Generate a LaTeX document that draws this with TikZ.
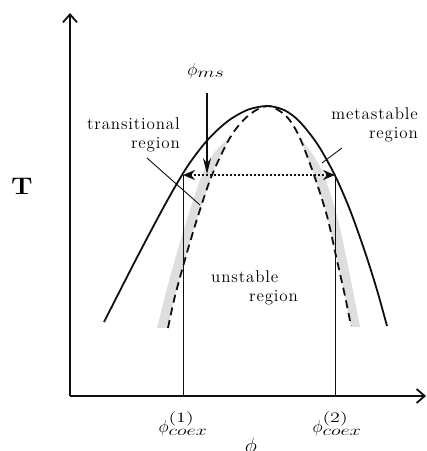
\documentclass[tikz,border=0pt]{standalone}
\usepackage{fontspec}
\usepackage{amsmath}
\usepackage{tikz}
\usetikzlibrary{arrows.meta, positioning, calc}
\definecolor{mydark}{RGB}{15,15,15}
\definecolor{mygrey}{RGB}{222,222,222}
\newfontfamily\spacedfont{lmroman12-regular}[Extension=.otf, LetterSpace=5]
\DeclareMathSizes{18}{18}{13.5}{10}
\tikzset{
  axis/.style={line width=1.8pt, color=mydark, -{Straight Barb[length=8pt, width=14pt]}},
  binodal/.style={line width=1.8pt, color=mydark},
  spinodal/.style={line width=1.8pt, color=mydark, dash pattern=on 8pt off 5pt},
  band/.style={fill=mygrey, draw=none},
  tieline/.style={line width=1.6pt, color=mydark, dash pattern=on 2pt off 2pt, {Stealth[length=12pt, width=10pt]}-{Stealth[length=12pt, width=10pt]}},
  guide/.style={line width=0.8pt, color=mydark},
  pointer/.style={line width=0.9pt, color=mydark},
  msarrow/.style={line width=1.5pt, color=mydark, -{Stealth[length=16pt, width=8pt]}},
  regionlabel/.style={font=\spacedfont\fontsize{17}{19}\selectfont, inner sep=0pt},
  mathlabel/.style={font=\fontsize{18}{21}\selectfont, inner sep=0pt}
}
\newcommand{\sw}[1]{\scalebox{1.4}[1]{$\scriptstyle #1$}}

\begin{document}
\begin{tikzpicture}[x=1pt, y=1pt]
  \useasboundingbox (0,0) rectangle (427,451);

  % Axes
  \coordinate (O) at (70,55);
  \coordinate (ytop) at (70,438);
  \coordinate (xend) at (426,55);
  \draw[axis] (O) -- (ytop);
  \draw[axis] (O) -- (xend);

  % Shaded transitional bands
  \fill[band] plot[smooth] coordinates {(228,312) (214,298) (202,276) (188,235) (176,195) (165,155) (157,123)}
    -- plot[smooth] coordinates {(168,123) (175,155) (186,195) (198,235) (212,276) (228,310)} -- cycle;
  \fill[band] plot[smooth] coordinates {(300,313) (313,296) (324,276) (337,235) (346,195) (354,155) (360,124)}
    -- plot[smooth] coordinates {(351,124) (345,155) (336,195) (327,235) (314,276) (301,310)} -- cycle;

  % Coexistence curve
  \draw[binodal] plot[smooth] coordinates {(104,129) (138,195.5) (167,250) (188,285.5) (208,311.5) (228,330) (248,341.3) (268,345)
    (285,340.5) (300,329) (318,306) (335,275.5) (350,241) (365,199) (377,161) (387,125)};

  % Spinodal curve
  \draw[spinodal] plot[smooth] coordinates {(168,123) (175,155) (186,195) (198,235) (212,276) (231,315) (249,336) (268,345)
    (286,335) (299,315) (314,276) (327,235) (336,195) (345,155) (351,125)};

  % Tie line and coexistence points
  \coordinate (coexA) at (183,276);
  \coordinate (coexB) at (335,276);
  \coordinate (footA) at (183,55);
  \coordinate (footB) at (335,55);
  \draw[guide] (coexA) -- (footA);
  \draw[guide] (coexB) -- (footB);
  \draw[tieline] (coexA) -- (coexB);

  % Labels
  \node[font=\fontsize{24}{26}\selectfont\bfseries, inner sep=0pt] (T) at (22,265) {\scalebox{1.15}[1]{T}};
  \node[mathlabel] (phims) at (206,380) {$\phi_{\sw{ms}}$};
  \node[mathlabel] (phi1) at (183,27) {$\phi^{\raisebox{2pt}{\sw{(1)}}}_{\sw{coex}}$};
  \node[mathlabel] (phi2) at (337,27) {$\phi^{\raisebox{2pt}{\sw{(2)}}}_{\sw{coex}}$};
  \node[mathlabel, anchor=north] (phi) at (251,13) {\scalebox{1.2}{$\phi$}};

  \node[regionlabel, align=right, anchor=east] (trans) at (180,316) {transitional\\region};
  \node[regionlabel, align=right, anchor=east] (meta) at (418,326) {metastable\\region};
  \node[regionlabel, align=left, anchor=west] (unst) at (211,163) {unstable\\\hspace*{38pt}region};

  % Pointers
  \coordinate (msstart) at (207,358);
  \coordinate (msend) at (207,277);
  \draw[msarrow] (msstart) -- (msend);
  \coordinate (transA) at (147,293);
  \coordinate (transB) at (200,246);
  \draw[pointer] (transA) -- (transB);
  \coordinate (metaA) at (342,303);
  \coordinate (metaB) at (322,288);
  \draw[pointer] (metaA) -- (metaB);
\end{tikzpicture}
\end{document}
